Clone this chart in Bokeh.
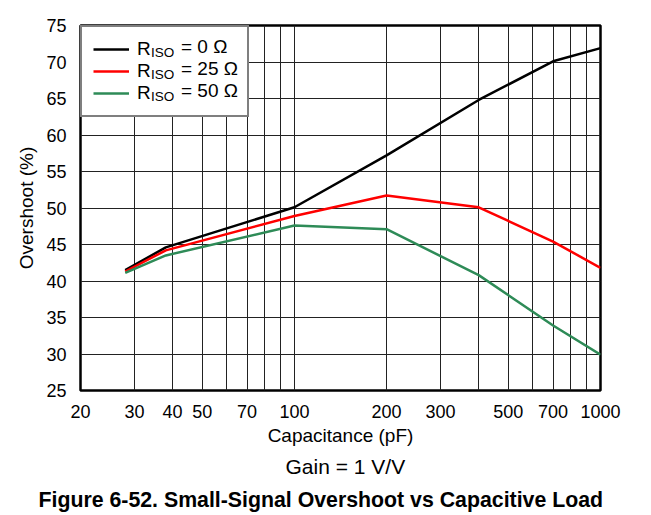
from bokeh.plotting import figure
from bokeh.models import Legend, LegendItem, FixedTicker, Range1d, BasicTickFormatter, Title
from bokeh.embed import file_html
from bokeh.resources import INLINE

# Data
capacitance = [28, 38, 100, 200, 400, 700, 1000]
riso_0 = [41.5, 44.6, 50.1, 57.2, 64.8, 70.1, 71.9]
riso_25 = [41.3, 44.2, 48.9, 51.7, 50.1, 45.4, 41.8]
riso_50 = [41.1, 43.5, 47.6, 47.1, 40.8, 33.9, 29.9]
series_values = ["= 0 \u03a9", "= 25 \u03a9", "= 50 \u03a9"]
series_colors = ["#000000", "#ff0000", "#2e8b57"]

x_grid_ticks = [20, 30, 40, 50, 60, 70, 80, 90, 100, 200, 300, 400, 500, 600, 700, 800, 900, 1000]
x_labeled = [20, 30, 40, 50, 70, 100, 200, 300, 500, 700, 1000]
y_ticks = [25, 30, 35, 40, 45, 50, 55, 60, 65, 70, 75]

FONT = "Liberation Sans"

p = figure(width=651, height=515, x_axis_type="log",
           x_range=Range1d(20, 1000), y_range=Range1d(25, 75),
           output_backend="svg", toolbar_location=None,
           min_border_left=80, min_border_right=51,
           min_border_top=25, min_border_bottom=122)

renderers = []
for vals, col in zip([riso_0, riso_25, riso_50], series_colors):
    r = p.line(capacitance, vals, line_color=col, line_width=2.5)
    renderers.append(r)

# Axes
p.xaxis.ticker = FixedTicker(ticks=x_grid_ticks, minor_ticks=[])
p.xaxis.formatter = BasicTickFormatter()
p.xaxis.major_label_overrides = {t: (str(t) if t in x_labeled else "") for t in x_grid_ticks}
p.yaxis.ticker = FixedTicker(ticks=y_ticks, minor_ticks=[])
for ax in (p.xaxis[0], p.yaxis[0]):
    ax.major_label_text_font = FONT
    ax.major_label_text_font_size = "18px"
    ax.major_label_text_color = "black"
    ax.axis_label_text_font = FONT
    ax.axis_label_text_font_size = "19px"
    ax.axis_label_text_font_style = "normal"
    ax.axis_label_text_color = "black"
    ax.axis_line_color = None
    ax.major_tick_line_color = None
    ax.minor_tick_line_color = None
p.xaxis.axis_label = "Capacitance (pF)"
p.yaxis.axis_label = "Overshoot (%)"
p.xaxis.major_label_standoff = 8
p.yaxis.major_label_standoff = 8
p.xaxis.axis_label_standoff = 4
p.yaxis.axis_label_standoff = 6

p.xgrid.grid_line_color = "#222222"
p.ygrid.grid_line_color = "#222222"
p.xgrid.grid_line_width = 1
p.ygrid.grid_line_width = 1

p.outline_line_color = "black"
p.outline_line_width = 2.5

# Legend: box + line samples + "R"
leg_main = Legend(items=[LegendItem(label="R", renderers=[r]) for r in renderers],
                  location="top_left", margin=0, padding=11, spacing=0,
                  glyph_width=36, glyph_height=22, label_height=22,
                  label_width=99, label_standoff=8,
                  label_text_font=FONT, label_text_font_size="19px", label_text_color="black",
                  border_line_color="black", border_line_width=2,
                  background_fill_color="white", background_fill_alpha=1)
p.add_layout(leg_main)

# Subscript "ISO"
leg_sub = Legend(items=[LegendItem(label="ISO", renderers=[r]) for r in renderers],
                 location="top_left", margin=16, padding=0, spacing=0,
                 glyph_width=0, glyph_height=22, label_height=22, label_standoff=55,
                 label_text_font=FONT, label_text_font_size="13.5px", label_text_color="black",
                 border_line_color=None, background_fill_alpha=0)
p.add_layout(leg_sub)

# Remaining text "= 0 Ω" etc.
leg_val = Legend(items=[LegendItem(label=v, renderers=[r]) for v, r in zip(series_values, renderers)],
                 location="top_left", margin=11, padding=0, spacing=0,
                 glyph_width=0, glyph_height=22, label_height=22, label_standoff=90,
                 label_text_font=FONT, label_text_font_size="19px", label_text_color="black",
                 border_line_color=None, background_fill_alpha=0)
p.add_layout(leg_val)

# Captions
p.add_layout(Title(text="Gain = 1 V/V", align="left", offset=205, text_font=FONT,
                   text_font_size="21px", text_font_style="normal", text_color="black",
                   standoff=8), "below")
p.add_layout(Title(text="Figure 6-52. Small-Signal Overshoot vs Capacitive Load", align="left",
                   offset=-42, text_font=FONT, text_font_size="21.3px", text_font_style="bold",
                   text_color="black", standoff=8), "below")

open("out.html", "w").write(file_html(p, INLINE))
